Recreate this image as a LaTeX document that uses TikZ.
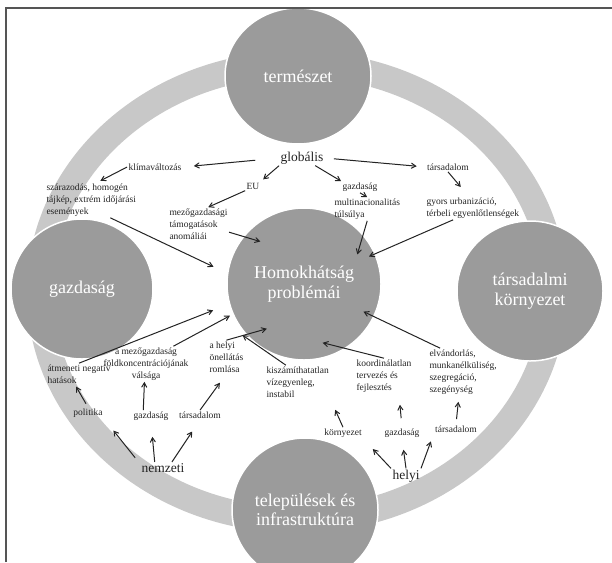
\documentclass[tikz,border=0pt]{standalone}
\usepackage{fontspec}
\setmainfont{Liberation Serif}
\usepackage{tikz}
\usetikzlibrary{arrows, shapes.geometric}
\definecolor{circgray}{RGB}{155,155,155}
\definecolor{ringgray}{RGB}{200,200,200}
\definecolor{framegray}{RGB}{85,85,85}
\definecolor{txtgray}{RGB}{35,35,35}

\begin{document}
\begin{tikzpicture}[x=1pt,y=-1pt,->,>=angle 60,line width=1pt]
  \tikzstyle{circ}=[ellipse,fill=circgray,draw=white,line width=1.5pt,
                    text=white,align=center,inner sep=0pt,
                    font=\fontsize{18}{19.5}\selectfont]
  \tikzstyle{lbl}=[font=\fontsize{9.5}{12}\selectfont,text=txtgray,
                   inner sep=1pt,align=left]
  \tikzstyle{lvl}=[font=\fontsize{13.5}{15}\selectfont,text=txtgray,
                   inner sep=1pt]
  \tikzstyle{every edge}=[draw,txtgray]

  \useasboundingbox (0,0) rectangle (612,562);
  \draw[-,ringgray,line width=26pt] (297,292) ellipse [x radius=257pt, y radius=228pt];

  \node[circ,minimum width=146pt,minimum height=136pt] (termeszet)  at (298,76)  {természet};
  \node[circ,minimum width=142pt,minimum height=140pt] (gazdasag)   at (82,289)  {gazdaság};
  \node[circ,minimum width=146pt,minimum height=140pt] (tarsadalmi) at (530,291) {társadalmi\\környezet};
  \node[circ,minimum width=146pt,minimum height=144pt] (telepules)  at (305,510) {települések és\\infrastruktúra};
  \node[circ,minimum width=154pt,minimum height=152pt] (homok)      at (304,284) {Homokhátság\\problémái};

  \node[lvl]              (globalis)  at (302,158) {globális};
  \node[lbl]              (klima)     at (155,167) {klímaváltozás};
  \node[lbl,anchor=west]  (szaraz)    at (45,200)  {szárazodás, homogén\\tájkép, extrém időjárási\\események};
  \node[lbl]              (eu)        at (253,186) {EU};
  \node[lbl,anchor=west]  (mezotam)   at (168,224) {mezőgazdasági\\támogatások\\anomáliái};
  \node[lbl]              (gazdG)     at (360,187) {gazdaság};
  \node[lbl,anchor=west]  (multi)     at (333,209) {multinacionalitás\\túlsúlya};
  \node[lbl]              (tarsG)     at (448,167) {társadalom};
  \node[lbl,anchor=west]  (urban)     at (425,208) {gyors urbanizáció,\\térbeli egyenlőtlenségek};

  \node[lbl,anchor=west]  (atmeneti)  at (46,374)  {átmeneti negatív\\ hatások};
  \node[lbl,align=center] (fold)      at (146,364) {a mezőgazdaság\\földkoncentrációjának\\válsága};
  \node[lbl,anchor=west]  (onellatas) at (208,357) {a helyi\\önellátás\\romlása};
  \node[lbl,anchor=west]  (viz)       at (265,382) {kiszámíthatatlan\\vízegyenleg,\\instabil};
  \node[lbl,anchor=west]  (koord)     at (355,376) {koordinálatlan\\tervezés és\\fejlesztés};
  \node[lbl,anchor=west]  (elvand)    at (428,372) {elvándorlás,\\munkanélküliség,\\szegregáció,\\szegénység};

  \node[lbl]              (politika)  at (88,413)  {politika};
  \node[lbl]              (gazdN)     at (151,416) {gazdaság};
  \node[lbl]              (tarsN)     at (200,415) {társadalom};
  \node[lvl]              (nemzeti)   at (163,468) {nemzeti};
  \node[lbl]              (kornyH)    at (343,433) {környezet};
  \node[lbl]              (gazdH)     at (402,433) {gazdaság};
  \node[lbl]              (tarsH)     at (456,429) {társadalom};
  \node[lvl]              (helyi)     at (406,476) {helyi};

  \path (globalis.west)  edge[shorten <=24pt,shorten >=11pt] (klima.east)
        (globalis.south west) edge[shorten >=3pt]            (eu.north east)
        (globalis.-30)   edge                                (gazdG.north west)
        (globalis.east)  edge[shorten <=9pt,shorten >=9pt]   (tarsG.west)
        (klima.west)     edge[shorten >=3pt]                 (szaraz.70)
        (eu.south west)  edge                                (mezotam.60)
        (gazdG.south)    edge                                (multi.north)
        (tarsG.south)    edge[shorten >=12pt]                (urban.110);

  \path (szaraz.-43)     edge[shorten >=15pt]  (homok.172)
        (mezotam.-15)    edge[shorten >=-18pt] (homok.142)
        (multi.south)    edge[shorten >=-21pt] (homok.40)
        (urban.-149)     edge[shorten >=-7pt]  (homok.23)
        (atmeneti.north) edge[shorten >=17pt]  (homok.195)
        (fold.33)        edge[shorten >=3pt]   (homok.203)
        (onellatas.north) edge[shorten >=-22pt] (homok.221)
        (viz.125)        edge[shorten >=-21pt] (homok.235)
        (koord.north)    edge[shorten >=-24pt] (homok.303)
        (elvand.134)     edge[shorten >=-12pt] (homok.335);

  \path (politika.north) edge[shorten <=4pt,shorten >=2pt] (atmeneti.-110)
        (gazdN.143)      edge                               (fold.-95)
        (tarsN.north)    edge[shorten >=11pt]               (onellatas.south)
        (nemzeti.170)    edge[shorten <=8pt,shorten >=15pt] (politika.south east)
        (nemzeti.144)    edge[shorten >=15pt]               (gazdN.south)
        (nemzeti.34)     edge[shorten >=14pt]               (tarsN.south)
        (kornyH.north)   edge[shorten >=12pt]               (viz.south east)
        (gazdH.north)    edge[shorten <=9pt,shorten >=11pt] (koord.-50)
        (tarsH.north)    edge[shorten <=5pt,shorten >=6pt]  (elvand.-100)
        (helyi.north west) edge[shorten >=14pt]             (kornyH.south east)
        (helyi.north)    edge[shorten >=11pt]               (gazdH.south)
        (helyi.north east) edge[shorten >=8pt]              (tarsH.south west);

  \draw[-,framegray,line width=2pt] (6,562) -- (6,8) -- (612,8);
\end{tikzpicture}
\end{document}
